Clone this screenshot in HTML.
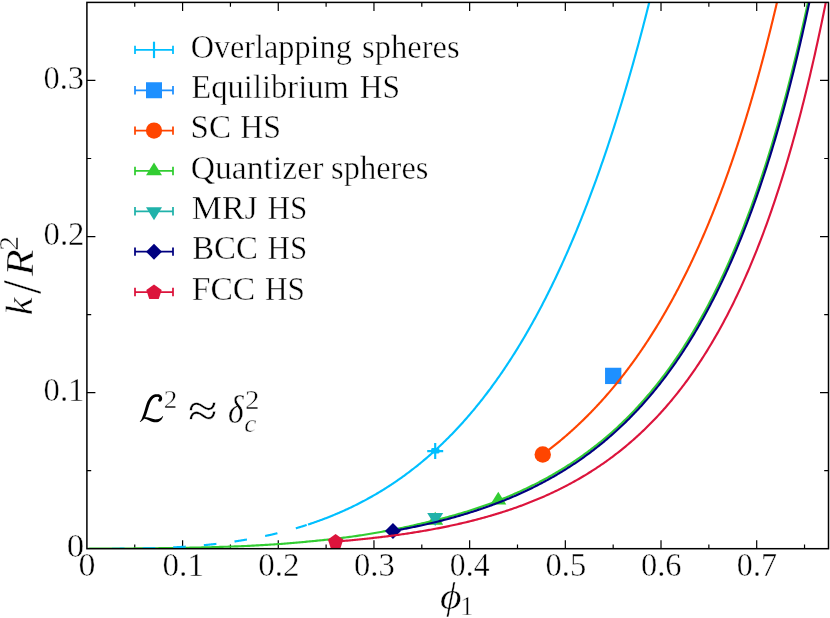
<!DOCTYPE html>
<html><head><meta charset="utf-8"><title>k/R^2 vs phi_1</title>
<style>html,body{margin:0;padding:0;background:#fff}body{width:830px;height:618px;overflow:hidden;font-family:"Liberation Serif",serif}</style></head>
<body>
<svg width="830" height="618" viewBox="0 0 830 618" style="display:block">
<rect width="830" height="618" fill="#fff"/>
<defs><clipPath id="ax"><rect x="86.9" y="2.4" width="741.6" height="546.3000000000001"/></clipPath></defs>
<path d="M134.74,548.7v-4.3M134.74,2.4v4.3M182.59,548.7v-8.5M182.59,2.4v8.5M230.43,548.7v-4.3M230.43,2.4v4.3M278.27,548.7v-8.5M278.27,2.4v8.5M326.11,548.7v-4.3M326.11,2.4v4.3M373.96,548.7v-8.5M373.96,2.4v8.5M421.80,548.7v-4.3M421.80,2.4v4.3M469.64,548.7v-8.5M469.64,2.4v8.5M517.49,548.7v-4.3M517.49,2.4v4.3M565.33,548.7v-8.5M565.33,2.4v8.5M613.17,548.7v-4.3M613.17,2.4v4.3M661.01,548.7v-8.5M661.01,2.4v8.5M708.86,548.7v-4.3M708.86,2.4v4.3M756.70,548.7v-8.5M756.70,2.4v8.5M804.54,548.7v-4.3M804.54,2.4v4.3M86.9,470.66h4.3M828.5,470.66h-4.3M86.9,392.61h8.5M828.5,392.61h-8.5M86.9,314.57h4.3M828.5,314.57h-4.3M86.9,236.53h8.5M828.5,236.53h-8.5M86.9,158.49h4.3M828.5,158.49h-4.3M86.9,80.44h8.5M828.5,80.44h-8.5" stroke="#000" stroke-width="1.2" fill="none"/>
<g clip-path="url(#ax)" fill="none" stroke-linejoin="round">
<rect x="605.0500000000001" y="367.75" width="16.3" height="16.3" fill="#1e90ff"/>
<path d="M542.75,454.47 L543.38,454.00 L544.01,453.53 L544.64,453.06 L545.28,452.58 L545.91,452.10 L546.54,451.62 L547.17,451.14 L547.81,450.66 L548.44,450.17 L549.07,449.68 L549.70,449.19 L550.33,448.70 L550.97,448.21 L551.60,447.71 L552.23,447.21 L552.86,446.71 L553.49,446.21 L554.13,445.71 L554.76,445.20 L555.39,444.69 L556.02,444.18 L556.66,443.67 L557.29,443.15 L557.92,442.63 L558.55,442.11 L559.18,441.59 L559.82,441.07 L560.45,440.54 L561.08,440.01 L561.71,439.48 L562.34,438.94 L562.98,438.41 L563.61,437.87 L564.24,437.33 L564.87,436.79 L565.51,436.24 L566.14,435.70 L566.77,435.15 L567.40,434.59 L568.03,434.04 L568.67,433.48 L569.30,432.92 L569.93,432.36 L570.56,431.80 L571.19,431.23 L571.83,430.66 L572.46,430.09 L573.09,429.52 L573.72,428.94 L574.36,428.36 L574.99,427.78 L575.62,427.20 L576.25,426.61 L576.88,426.02 L577.52,425.43 L578.15,424.84 L578.78,424.24 L579.41,423.64 L580.04,423.04 L580.68,422.44 L581.31,421.83 L581.94,421.22 L582.57,420.61 L583.21,419.99 L583.84,419.38 L584.47,418.76 L585.10,418.13 L585.73,417.51 L586.37,416.88 L587.00,416.25 L587.63,415.62 L588.26,414.98 L588.89,414.34 L589.53,413.70 L590.16,413.05 L590.79,412.41 L591.42,411.76 L592.06,411.10 L592.69,410.45 L593.32,409.79 L593.95,409.13 L594.58,408.46 L595.22,407.80 L595.85,407.13 L596.48,406.45 L597.11,405.78 L597.74,405.10 L598.38,404.42 L599.01,403.73 L599.64,403.04 L600.27,402.35 L600.91,401.66 L601.54,400.96 L602.17,400.26 L602.80,399.56 L603.43,398.85 L604.07,398.14 L604.70,397.43 L605.33,396.72 L605.96,396.00 L606.59,395.28 L607.23,394.55 L607.86,393.82 L608.49,393.09 L609.12,392.36 L609.76,391.62 L610.39,390.88 L611.02,390.14 L611.65,389.39 L612.28,388.64 L612.92,387.88 L613.55,387.13 L614.18,386.37 L614.81,385.60 L615.44,384.83 L616.08,384.06 L616.71,383.29 L617.34,382.51 L617.97,381.73 L618.61,380.95 L619.24,380.16 L619.87,379.37 L620.50,378.57 L621.13,377.77 L621.77,376.97 L622.40,376.17 L623.03,375.36 L623.66,374.54 L624.29,373.73 L624.93,372.91 L625.56,372.08 L626.19,371.26 L626.82,370.43 L627.46,369.59 L628.09,368.75 L628.72,367.91 L629.35,367.07 L629.98,366.22 L630.62,365.36 L631.25,364.51 L631.88,363.64 L632.51,362.78 L633.14,361.91 L633.78,361.04 L634.41,360.16 L635.04,359.28 L635.67,358.40 L636.31,357.51 L636.94,356.61 L637.57,355.72 L638.20,354.82 L638.83,353.91 L639.47,353.00 L640.10,352.09 L640.73,351.17 L641.36,350.25 L641.99,349.33 L642.63,348.40 L643.26,347.46 L643.89,346.53 L644.52,345.58 L645.16,344.64 L645.79,343.69 L646.42,342.73 L647.05,341.77 L647.68,340.81 L648.32,339.84 L648.95,338.87 L649.58,337.89 L650.21,336.91 L650.84,335.92 L651.48,334.93 L652.11,333.94 L652.74,332.94 L653.37,331.94 L654.01,330.93 L654.64,329.91 L655.27,328.90 L655.90,327.87 L656.53,326.85 L657.17,325.81 L657.80,324.78 L658.43,323.73 L659.06,322.69 L659.69,321.64 L660.33,320.58 L660.96,319.52 L661.59,318.45 L662.22,317.38 L662.86,316.31 L663.49,315.23 L664.12,314.14 L664.75,313.05 L665.38,311.95 L666.02,310.85 L666.65,309.75 L667.28,308.64 L667.91,307.52 L668.55,306.40 L669.18,305.27 L669.81,304.14 L670.44,303.00 L671.07,301.86 L671.71,300.71 L672.34,299.56 L672.97,298.40 L673.60,297.23 L674.23,296.06 L674.87,294.89 L675.50,293.71 L676.13,292.52 L676.76,291.33 L677.40,290.13 L678.03,288.93 L678.66,287.72 L679.29,286.50 L679.92,285.28 L680.56,284.06 L681.19,282.82 L681.82,281.59 L682.45,280.34 L683.08,279.09 L683.72,277.84 L684.35,276.58 L684.98,275.31 L685.61,274.03 L686.25,272.75 L686.88,271.47 L687.51,270.18 L688.14,268.88 L688.77,267.57 L689.41,266.26 L690.04,264.94 L690.67,263.62 L691.30,262.29 L691.93,260.95 L692.57,259.61 L693.20,258.26 L693.83,256.91 L694.46,255.54 L695.10,254.17 L695.73,252.80 L696.36,251.42 L696.99,250.03 L697.62,248.63 L698.26,247.23 L698.89,245.82 L699.52,244.40 L700.15,242.98 L700.78,241.55 L701.42,240.11 L702.05,238.67 L702.68,237.22 L703.31,235.76 L703.95,234.29 L704.58,232.82 L705.21,231.34 L705.84,229.85 L706.47,228.36 L707.11,226.86 L707.74,225.35 L708.37,223.83 L709.00,222.30 L709.63,220.77 L710.27,219.23 L710.90,217.68 L711.53,216.13 L712.16,214.57 L712.80,213.00 L713.43,211.42 L714.06,209.83 L714.69,208.24 L715.32,206.63 L715.96,205.02 L716.59,203.41 L717.22,201.78 L717.85,200.14 L718.48,198.50 L719.12,196.85 L719.75,195.19 L720.38,193.52 L721.01,191.85 L721.65,190.16 L722.28,188.47 L722.91,186.76 L723.54,185.05 L724.17,183.33 L724.81,181.61 L725.44,179.87 L726.07,178.12 L726.70,176.37 L727.33,174.60 L727.97,172.83 L728.60,171.05 L729.23,169.26 L729.86,167.46 L730.50,165.65 L731.13,163.83 L731.76,162.00 L732.39,160.16 L733.02,158.31 L733.66,156.46 L734.29,154.59 L734.92,152.71 L735.55,150.83 L736.18,148.93 L736.82,147.02 L737.45,145.11 L738.08,143.18 L738.71,141.25 L739.35,139.30 L739.98,137.34 L740.61,135.38 L741.24,133.40 L741.87,131.41 L742.51,129.42 L743.14,127.41 L743.77,125.39 L744.40,123.36 L745.03,121.32 L745.67,119.27 L746.30,117.20 L746.93,115.13 L747.56,113.05 L748.20,110.95 L748.83,108.84 L749.46,106.73 L750.09,104.60 L750.72,102.46 L751.36,100.30 L751.99,98.14 L752.62,95.96 L753.25,93.78 L753.88,91.58 L754.52,89.37 L755.15,87.14 L755.78,84.91 L756.41,82.66 L757.05,80.40 L757.68,78.13 L758.31,75.84 L758.94,73.55 L759.57,71.24 L760.21,68.92 L760.84,66.58 L761.47,64.23 L762.10,61.87 L762.73,59.50 L763.37,57.11 L764.00,54.71 L764.63,52.30 L765.26,49.87 L765.90,47.43 L766.53,44.98 L767.16,42.51 L767.79,40.03 L768.42,37.54 L769.06,35.03 L769.69,32.50 L770.32,29.97 L770.95,27.41 L771.58,24.85 L772.22,22.27 L772.85,19.67 L773.48,17.06 L774.11,14.44 L774.75,11.80 L775.38,9.15 L776.01,6.48 L776.64,3.79 L777.27,1.09 L777.91,-1.62 L778.54,-4.35 L779.17,-7.10 L779.80,-9.86 L780.43,-12.64" stroke="#ff4500" stroke-width="2.15"/>
<circle cx="542.75" cy="454.47" r="8.2" fill="#ff4500"/>
<path d="M86.90,548.70 L88.38,548.70 L89.85,548.69 L91.33,548.68 L92.81,548.68 L94.28,548.67 L95.76,548.67 L97.24,548.66 L98.71,548.66 L100.19,548.65 L101.67,548.64 L103.14,548.64 L104.62,548.63 L106.09,548.62 L107.57,548.61 L109.05,548.61 L110.52,548.60 L112.00,548.59 L113.48,548.58 L114.95,548.57 L116.43,548.57 L117.91,548.56 L119.38,548.55 L120.86,548.54 L122.34,548.53 L123.81,548.52 L125.29,548.51 L126.77,548.50 L128.24,548.49 L129.72,548.47 L131.20,548.46 L132.67,548.45 L134.15,548.44 L135.62,548.43 L137.10,548.41 L138.58,548.40 L140.05,548.39 L141.53,548.37 L143.01,548.36 L144.48,548.34 L145.96,548.33 L147.44,548.32 L148.91,548.30 L150.39,548.28 L151.87,548.27 L153.34,548.25 L154.82,548.23 L156.30,548.22 L157.77,548.20 L159.25,548.18 L160.73,548.16 L162.20,548.14 L163.68,548.12 L165.16,548.10 L166.63,548.08 L168.11,548.06 L169.58,548.04 L171.06,548.02 L172.54,548.00 L174.01,547.98 L175.49,547.95 L176.97,547.93 L178.44,547.91 L179.92,547.88 L181.40,547.86 L182.87,547.83 L184.35,547.80 L185.83,547.78 L187.30,547.75 L188.78,547.72 L190.26,547.69 L191.73,547.66 L193.21,547.63 L194.69,547.60 L196.16,547.56 L197.64,547.53 L199.11,547.50 L200.59,547.46 L202.07,547.43 L203.54,547.39 L205.02,547.35 L206.50,547.32 L207.97,547.28 L209.45,547.24 L210.93,547.20 L212.40,547.16 L213.88,547.12 L215.36,547.07 L216.83,547.03 L218.31,546.99 L219.79,546.94 L221.26,546.90 L222.74,546.85 L224.22,546.80 L225.69,546.75 L227.17,546.70 L228.65,546.65 L230.12,546.60 L231.60,546.55 L233.07,546.50 L234.55,546.44 L236.03,546.39 L237.50,546.33 L238.98,546.27 L240.46,546.21 L241.93,546.15 L243.41,546.08 L244.89,546.02 L246.36,545.95 L247.84,545.88 L249.32,545.81 L250.79,545.73 L252.27,545.66 L253.75,545.58 L255.22,545.51 L256.70,545.43 L258.18,545.35 L259.65,545.27 L261.13,545.18 L262.61,545.10 L264.08,545.01 L265.56,544.92 L267.03,544.83 L268.51,544.74 L269.99,544.65 L271.46,544.55 L272.94,544.46 L274.42,544.36 L275.89,544.26 L277.37,544.16 L278.85,544.05 L280.32,543.95 L281.80,543.84 L283.28,543.73 L284.75,543.62 L286.23,543.51 L287.71,543.39 L289.18,543.27 L290.66,543.15 L292.14,543.03 L293.61,542.91 L295.09,542.78 L296.56,542.65 L298.04,542.52 L299.52,542.39 L300.99,542.26 L302.47,542.12 L303.95,541.98 L305.42,541.84 L306.90,541.69 L308.38,541.55 L309.85,541.40 L311.33,541.26 L312.81,541.12 L314.28,540.98 L315.76,540.84 L317.24,540.69 L318.71,540.55 L320.19,540.40 L321.67,540.24 L323.14,540.09 L324.62,539.93 L326.10,539.77 L327.57,539.61 L329.05,539.45 L330.52,539.28 L332.00,539.12 L333.48,538.95 L334.95,538.77 L336.43,538.60 L337.91,538.42 L339.38,538.24 L340.86,538.05 L342.34,537.87 L343.81,537.68 L345.29,537.49 L346.77,537.29 L348.24,537.10 L349.72,536.90 L351.20,536.69 L352.67,536.49 L354.15,536.28 L355.63,536.07 L357.10,535.85 L358.58,535.63 L360.05,535.41 L361.53,535.19 L363.01,534.96 L364.48,534.73 L365.96,534.50 L367.44,534.26 L368.91,534.02 L370.39,533.78 L371.87,533.53 L373.34,533.28 L374.82,533.03 L376.30,532.77 L377.77,532.51 L379.25,532.25 L380.73,531.98 L382.20,531.71 L383.68,531.43 L385.16,531.17 L386.63,530.90 L388.11,530.63 L389.59,530.36 L391.06,530.08 L392.54,529.80 L394.01,529.51 L395.49,529.22 L396.97,528.93 L398.44,528.63 L399.92,528.33 L401.40,528.03 L402.87,527.72 L404.35,527.41 L405.83,527.10 L407.30,526.78 L408.78,526.45 L410.26,526.12 L411.73,525.79 L413.21,525.46 L414.69,525.12 L416.16,524.77 L417.64,524.42 L419.12,524.07 L420.59,523.71 L422.07,523.36 L423.54,523.03 L425.02,522.69 L426.50,522.35 L427.97,522.01 L429.45,521.66 L430.93,521.31 L432.40,520.96 L433.88,520.60 L435.36,520.24 L436.83,519.88 L438.31,519.51 L439.79,519.13 L441.26,518.76 L442.74,518.37 L444.22,517.99 L445.69,517.60 L447.17,517.20 L448.65,516.80 L450.12,516.40 L451.60,515.99 L453.08,515.58 L454.55,515.17 L456.03,514.75 L457.50,514.32 L458.98,513.89 L460.46,513.46 L461.93,513.02 L463.41,512.57 L464.89,512.12 L466.36,511.67 L467.84,511.21 L469.32,510.75 L470.79,510.28 L472.27,509.80 L473.75,509.32 L475.22,508.84 L476.70,508.35 L478.18,507.86 L479.65,507.36 L481.13,506.85 L482.61,506.34 L484.08,505.82 L485.56,505.30 L487.04,504.77 L488.51,504.24 L489.99,503.70 L491.46,503.16 L492.94,502.61 L494.42,502.05 L495.89,501.49 L497.37,500.92 L498.85,500.34 L500.32,499.76 L501.80,499.18 L503.28,498.58 L504.75,497.98 L506.23,497.38 L507.71,496.76 L509.18,496.15 L510.66,495.52 L512.14,494.89 L513.61,494.25 L515.09,493.60 L516.57,492.95 L518.04,492.29 L519.52,491.62 L520.99,490.95 L522.47,490.28 L523.95,489.59 L525.42,488.90 L526.90,488.20 L528.38,487.49 L529.85,486.78 L531.33,486.06 L532.81,485.33 L534.28,484.59 L535.76,483.84 L537.24,483.09 L538.71,482.33 L540.19,481.56 L541.67,480.78 L543.14,480.00 L544.62,479.20 L546.10,478.40 L547.57,477.59 L549.05,476.77 L550.53,475.94 L552.00,475.10 L553.48,474.25 L554.95,473.40 L556.43,472.53 L557.91,471.66 L559.38,470.77 L560.86,469.88 L562.34,468.98 L563.81,468.06 L565.29,467.14 L566.77,466.21 L568.24,465.26 L569.72,464.31 L571.20,463.35 L572.67,462.38 L574.15,461.39 L575.63,460.40 L577.10,459.39 L578.58,458.38 L580.06,457.35 L581.53,456.31 L583.01,455.26 L584.48,454.20 L585.96,453.13 L587.44,452.04 L588.91,450.95 L590.39,449.84 L591.87,448.72 L593.34,447.59 L594.82,446.44 L596.30,445.29 L597.77,444.12 L599.25,442.94 L600.73,441.74 L602.20,440.53 L603.68,439.31 L605.16,438.08 L606.63,436.83 L608.11,435.56 L609.59,434.29 L611.06,433.00 L612.54,431.69 L614.02,430.37 L615.49,429.03 L616.97,427.67 L618.44,426.29 L619.92,424.90 L621.40,423.50 L622.87,422.08 L624.35,420.64 L625.83,419.19 L627.30,417.72 L628.78,416.23 L630.26,414.73 L631.73,413.21 L633.21,411.67 L634.69,410.12 L636.16,408.55 L637.64,406.96 L639.12,405.35 L640.59,403.73 L642.07,402.08 L643.55,400.42 L645.02,398.74 L646.50,397.04 L647.97,395.32 L649.45,393.58 L650.93,391.82 L652.40,390.04 L653.88,388.24 L655.36,386.42 L656.83,384.57 L658.31,382.71 L659.79,380.83 L661.26,378.92 L662.74,376.99 L664.22,375.04 L665.69,373.07 L667.17,371.07 L668.65,369.05 L670.12,367.01 L671.60,364.94 L673.08,362.85 L674.55,360.73 L676.03,358.59 L677.51,356.42 L678.98,354.23 L680.46,352.01 L681.93,349.77 L683.41,347.50 L684.89,345.20 L686.36,342.87 L687.84,340.52 L689.32,338.14 L690.79,335.73 L692.27,333.29 L693.75,330.82 L695.22,328.33 L696.70,325.80 L698.18,323.24 L699.65,320.65 L701.13,318.03 L702.61,315.38 L704.08,312.69 L705.56,309.98 L707.04,307.23 L708.51,304.44 L709.99,301.62 L711.47,298.77 L712.94,295.88 L714.42,292.95 L715.89,289.99 L717.37,287.00 L718.85,283.96 L720.32,280.89 L721.80,277.78 L723.28,274.63 L724.75,271.44 L726.23,268.21 L727.71,264.94 L729.18,261.62 L730.66,258.27 L732.14,254.87 L733.61,251.43 L735.09,247.95 L736.57,244.42 L738.04,240.84 L739.52,237.22 L741.00,233.55 L742.47,229.84 L743.95,226.07 L745.42,222.26 L746.90,218.40 L748.38,214.49 L749.85,210.52 L751.33,206.51 L752.81,202.44 L754.28,198.31 L755.76,194.13 L757.24,189.90 L758.71,185.61 L760.19,181.26 L761.67,176.85 L763.14,172.38 L764.62,167.86 L766.10,163.27 L767.57,158.61 L769.05,153.90 L770.53,149.12 L772.00,144.27 L773.48,139.36 L774.96,134.38 L776.43,129.33 L777.91,124.21 L779.38,119.02 L780.86,113.75 L782.34,108.41 L783.81,103.00 L785.29,97.51 L786.77,91.94 L788.24,86.29 L789.72,80.56 L791.20,74.74 L792.67,68.85 L794.15,62.86 L795.63,56.79 L797.10,50.63 L798.58,44.39 L800.06,38.04 L801.53,31.61 L803.01,25.08 L804.49,18.45 L805.96,11.72 L807.44,4.89 L808.91,-2.04 L810.39,-9.08" stroke="#32cd32" stroke-width="2.15"/>
<path d="M435.2,511.79999999999995L443.2,524.6999999999999L427.2,524.6999999999999Z" fill="#32cd32"/>
<path d="M498.3,491.7L506.3,504.6L490.3,504.6Z" fill="#32cd32"/>
<path d="M435.2,526.0L443.2,513.1L427.2,513.1Z" fill="#20b2aa"/>
<path d="M392.92706384067196,522.9989870123608L400.92706384067196,530.9989870123608L392.92706384067196,538.9989870123608L384.92706384067196,530.9989870123608Z" fill="#000080"/>
<path d="M392.93,531.00 L394.01,530.81 L395.09,530.61 L396.17,530.42 L397.25,530.22 L398.32,530.02 L399.40,529.82 L400.48,529.62 L401.56,529.42 L402.64,529.21 L403.72,529.01 L404.80,528.80 L405.88,528.59 L406.96,528.38 L408.04,528.16 L409.12,527.95 L410.20,527.73 L411.28,527.51 L412.36,527.29 L413.44,527.07 L414.52,526.85 L415.60,526.62 L416.68,526.39 L417.76,526.16 L418.84,525.93 L419.92,525.70 L421.00,525.46 L422.08,525.23 L423.16,524.99 L424.23,524.75 L425.31,524.50 L426.39,524.26 L427.47,524.01 L428.55,523.76 L429.63,523.51 L430.71,523.26 L431.79,523.00 L432.87,522.75 L433.95,522.49 L435.03,522.23 L436.11,521.96 L437.19,521.70 L438.27,521.43 L439.35,521.16 L440.43,520.89 L441.51,520.61 L442.59,520.34 L443.67,520.06 L444.75,519.78 L445.83,519.50 L446.91,519.21 L447.99,518.93 L449.07,518.64 L450.14,518.34 L451.22,518.05 L452.30,517.75 L453.38,517.45 L454.46,517.15 L455.54,516.85 L456.62,516.54 L457.70,516.24 L458.78,515.93 L459.86,515.61 L460.94,515.30 L462.02,514.98 L463.10,514.66 L464.18,514.33 L465.26,514.01 L466.34,513.68 L467.42,513.35 L468.50,513.02 L469.58,512.68 L470.66,512.34 L471.74,512.00 L472.82,511.66 L473.90,511.31 L474.98,510.96 L476.05,510.61 L477.13,510.25 L478.21,509.89 L479.29,509.53 L480.37,509.17 L481.45,508.80 L482.53,508.43 L483.61,508.06 L484.69,507.69 L485.77,507.31 L486.85,506.93 L487.93,506.54 L489.01,506.16 L490.09,505.77 L491.17,505.37 L492.25,504.98 L493.33,504.58 L494.41,504.18 L495.49,503.77 L496.57,503.36 L497.65,502.95 L498.73,502.54 L499.81,502.12 L500.89,501.70 L501.96,501.27 L503.04,500.84 L504.12,500.41 L505.20,499.98 L506.28,499.54 L507.36,499.10 L508.44,498.65 L509.52,498.20 L510.60,497.75 L511.68,497.30 L512.76,496.84 L513.84,496.37 L514.92,495.91 L516.00,495.44 L517.08,494.96 L518.16,494.49 L519.24,494.01 L520.32,493.52 L521.40,493.03 L522.48,492.54 L523.56,492.04 L524.64,491.54 L525.72,491.04 L526.80,490.53 L527.87,490.02 L528.95,489.50 L530.03,488.98 L531.11,488.46 L532.19,487.93 L533.27,487.40 L534.35,486.86 L535.43,486.32 L536.51,485.77 L537.59,485.23 L538.67,484.67 L539.75,484.11 L540.83,483.55 L541.91,482.98 L542.99,482.41 L544.07,481.84 L545.15,481.26 L546.23,480.67 L547.31,480.08 L548.39,479.49 L549.47,478.89 L550.55,478.29 L551.63,477.68 L552.71,477.07 L553.78,476.45 L554.86,475.83 L555.94,475.20 L557.02,474.57 L558.10,473.93 L559.18,473.29 L560.26,472.64 L561.34,471.99 L562.42,471.33 L563.50,470.66 L564.58,470.00 L565.66,469.32 L566.74,468.64 L567.82,467.96 L568.90,467.27 L569.98,466.58 L571.06,465.87 L572.14,465.17 L573.22,464.46 L574.30,463.74 L575.38,463.02 L576.46,462.29 L577.54,461.55 L578.62,460.81 L579.69,460.07 L580.77,459.31 L581.85,458.56 L582.93,457.79 L584.01,457.02 L585.09,456.24 L586.17,455.46 L587.25,454.67 L588.33,453.88 L589.41,453.08 L590.49,452.27 L591.57,451.45 L592.65,450.63 L593.73,449.80 L594.81,448.97 L595.89,448.13 L596.97,447.28 L598.05,446.43 L599.13,445.57 L600.21,444.70 L601.29,443.82 L602.37,442.94 L603.45,442.05 L604.52,441.15 L605.60,440.25 L606.68,439.34 L607.76,438.42 L608.84,437.49 L609.92,436.56 L611.00,435.62 L612.08,434.67 L613.16,433.71 L614.24,432.75 L615.32,431.78 L616.40,430.80 L617.48,429.81 L618.56,428.82 L619.64,427.81 L620.72,426.80 L621.80,425.78 L622.88,424.75 L623.96,423.71 L625.04,422.67 L626.12,421.61 L627.20,420.55 L628.28,419.48 L629.36,418.40 L630.43,417.31 L631.51,416.21 L632.59,415.10 L633.67,413.99 L634.75,412.86 L635.83,411.73 L636.91,410.58 L637.99,409.43 L639.07,408.26 L640.15,407.09 L641.23,405.91 L642.31,404.71 L643.39,403.51 L644.47,402.30 L645.55,401.08 L646.63,399.84 L647.71,398.60 L648.79,397.35 L649.87,396.08 L650.95,394.81 L652.03,393.52 L653.11,392.23 L654.19,390.92 L655.27,389.60 L656.34,388.27 L657.42,386.93 L658.50,385.58 L659.58,384.22 L660.66,382.84 L661.74,381.46 L662.82,380.06 L663.90,378.65 L664.98,377.23 L666.06,375.79 L667.14,374.35 L668.22,372.89 L669.30,371.42 L670.38,369.93 L671.46,368.44 L672.54,366.93 L673.62,365.41 L674.70,363.87 L675.78,362.32 L676.86,360.76 L677.94,359.19 L679.02,357.60 L680.10,356.00 L681.18,354.38 L682.25,352.75 L683.33,351.10 L684.41,349.45 L685.49,347.77 L686.57,346.08 L687.65,344.38 L688.73,342.66 L689.81,340.93 L690.89,339.18 L691.97,337.42 L693.05,335.64 L694.13,333.85 L695.21,332.04 L696.29,330.21 L697.37,328.37 L698.45,326.51 L699.53,324.64 L700.61,322.74 L701.69,320.84 L702.77,318.91 L703.85,316.97 L704.93,315.01 L706.01,313.03 L707.09,311.03 L708.16,309.02 L709.24,306.99 L710.32,304.94 L711.40,302.87 L712.48,300.78 L713.56,298.68 L714.64,296.55 L715.72,294.41 L716.80,292.25 L717.88,290.06 L718.96,287.86 L720.04,285.64 L721.12,283.39 L722.20,281.13 L723.28,278.84 L724.36,276.54 L725.44,274.21 L726.52,271.86 L727.60,269.49 L728.68,267.09 L729.76,264.68 L730.84,262.24 L731.92,259.78 L733.00,257.30 L734.07,254.79 L735.15,252.26 L736.23,249.71 L737.31,247.13 L738.39,244.53 L739.47,241.90 L740.55,239.25 L741.63,236.57 L742.71,233.87 L743.79,231.14 L744.87,228.39 L745.95,225.60 L747.03,222.80 L748.11,219.96 L749.19,217.10 L750.27,214.21 L751.35,211.30 L752.43,208.35 L753.51,205.38 L754.59,202.37 L755.67,199.34 L756.75,196.28 L757.83,193.19 L758.91,190.07 L759.98,186.91 L761.06,183.73 L762.14,180.51 L763.22,177.27 L764.30,173.99 L765.38,170.68 L766.46,167.33 L767.54,163.95 L768.62,160.54 L769.70,157.09 L770.78,153.61 L771.86,150.10 L772.94,146.54 L774.02,142.96 L775.10,139.33 L776.18,135.67 L777.26,131.97 L778.34,128.24 L779.42,124.46 L780.50,120.65 L781.58,116.79 L782.66,112.90 L783.74,108.97 L784.82,104.99 L785.89,100.98 L786.97,96.92 L788.05,92.82 L789.13,88.68 L790.21,84.49 L791.29,80.26 L792.37,75.99 L793.45,71.66 L794.53,67.30 L795.61,62.88 L796.69,58.42 L797.77,53.91 L798.85,49.36 L799.93,44.75 L801.01,40.09 L802.09,35.39 L803.17,30.63 L804.25,25.82 L805.33,20.95 L806.41,16.04 L807.49,11.07 L808.57,6.04 L809.65,0.96 L810.73,-4.18 L811.80,-9.38" stroke="#000080" stroke-width="2.15"/>
<path d="M335.22,541.63 L336.46,541.52 L337.70,541.42 L338.93,541.32 L340.17,541.22 L341.40,541.11 L342.64,541.00 L343.88,540.90 L345.11,540.79 L346.35,540.68 L347.59,540.57 L348.82,540.46 L350.06,540.34 L351.29,540.23 L352.53,540.11 L353.77,539.99 L355.00,539.88 L356.24,539.76 L357.47,539.63 L358.71,539.51 L359.95,539.39 L361.18,539.26 L362.42,539.14 L363.66,539.01 L364.89,538.88 L366.13,538.75 L367.36,538.62 L368.60,538.48 L369.84,538.35 L371.07,538.21 L372.31,538.08 L373.55,537.94 L374.78,537.80 L376.02,537.65 L377.25,537.51 L378.49,537.36 L379.73,537.22 L380.96,537.07 L382.20,536.92 L383.43,536.77 L384.67,536.62 L385.91,536.46 L387.14,536.31 L388.38,536.15 L389.62,535.99 L390.85,535.83 L392.09,535.66 L393.32,535.50 L394.56,535.33 L395.80,535.17 L397.03,535.00 L398.27,534.82 L399.51,534.65 L400.74,534.48 L401.98,534.30 L403.21,534.12 L404.45,533.94 L405.69,533.76 L406.92,533.58 L408.16,533.39 L409.39,533.20 L410.63,533.01 L411.87,532.82 L413.10,532.63 L414.34,532.43 L415.58,532.23 L416.81,532.03 L418.05,531.83 L419.28,531.63 L420.52,531.42 L421.76,531.22 L422.99,531.01 L424.23,530.79 L425.47,530.58 L426.70,530.36 L427.94,530.15 L429.17,529.93 L430.41,529.70 L431.65,529.48 L432.88,529.25 L434.12,529.02 L435.35,528.79 L436.59,528.56 L437.83,528.32 L439.06,528.08 L440.30,527.84 L441.54,527.60 L442.77,527.35 L444.01,527.10 L445.24,526.85 L446.48,526.60 L447.72,526.34 L448.95,526.08 L450.19,525.82 L451.43,525.56 L452.66,525.29 L453.90,525.02 L455.13,524.75 L456.37,524.48 L457.61,524.20 L458.84,523.92 L460.08,523.64 L461.31,523.36 L462.55,523.07 L463.79,522.78 L465.02,522.49 L466.26,522.19 L467.50,521.89 L468.73,521.59 L469.97,521.28 L471.20,520.98 L472.44,520.66 L473.68,520.35 L474.91,520.03 L476.15,519.71 L477.39,519.39 L478.62,519.06 L479.86,518.73 L481.09,518.40 L482.33,518.07 L483.57,517.73 L484.80,517.38 L486.04,517.04 L487.27,516.69 L488.51,516.34 L489.75,515.98 L490.98,515.62 L492.22,515.26 L493.46,514.89 L494.69,514.52 L495.93,514.15 L497.16,513.77 L498.40,513.39 L499.64,513.01 L500.87,512.62 L502.11,512.23 L503.35,511.83 L504.58,511.43 L505.82,511.03 L507.05,510.62 L508.29,510.21 L509.53,509.80 L510.76,509.38 L512.00,508.96 L513.23,508.53 L514.47,508.10 L515.71,507.66 L516.94,507.22 L518.18,506.78 L519.42,506.33 L520.65,505.88 L521.89,505.42 L523.12,504.96 L524.36,504.50 L525.60,504.03 L526.83,503.55 L528.07,503.08 L529.31,502.59 L530.54,502.11 L531.78,501.61 L533.01,501.12 L534.25,500.61 L535.49,500.11 L536.72,499.59 L537.96,499.08 L539.20,498.56 L540.43,498.03 L541.67,497.50 L542.90,496.96 L544.14,496.42 L545.38,495.87 L546.61,495.32 L547.85,494.76 L549.08,494.20 L550.32,493.63 L551.56,493.06 L552.79,492.48 L554.03,491.89 L555.27,491.30 L556.50,490.71 L557.74,490.11 L558.97,489.50 L560.21,488.88 L561.45,488.27 L562.68,487.64 L563.92,487.01 L565.16,486.37 L566.39,485.73 L567.63,485.08 L568.86,484.42 L570.10,483.76 L571.34,483.09 L572.57,482.42 L573.81,481.74 L575.04,481.05 L576.28,480.35 L577.52,479.65 L578.75,478.95 L579.99,478.23 L581.23,477.51 L582.46,476.78 L583.70,476.05 L584.93,475.30 L586.17,474.55 L587.41,473.80 L588.64,473.03 L589.88,472.26 L591.12,471.48 L592.35,470.69 L593.59,469.90 L594.82,469.10 L596.06,468.29 L597.30,467.47 L598.53,466.65 L599.77,465.81 L601.00,464.97 L602.24,464.12 L603.48,463.26 L604.71,462.40 L605.95,461.52 L607.19,460.64 L608.42,459.75 L609.66,458.85 L610.89,457.94 L612.13,457.02 L613.37,456.09 L614.60,455.16 L615.84,454.21 L617.08,453.26 L618.31,452.29 L619.55,451.32 L620.78,450.34 L622.02,449.34 L623.26,448.34 L624.49,447.33 L625.73,446.31 L626.96,445.28 L628.20,444.23 L629.44,443.18 L630.67,442.12 L631.91,441.05 L633.15,439.96 L634.38,438.87 L635.62,437.76 L636.85,436.65 L638.09,435.52 L639.33,434.38 L640.56,433.23 L641.80,432.07 L643.04,430.90 L644.27,429.71 L645.51,428.52 L646.74,427.31 L647.98,426.09 L649.22,424.86 L650.45,423.61 L651.69,422.36 L652.92,421.09 L654.16,419.80 L655.40,418.51 L656.63,417.20 L657.87,415.88 L659.11,414.55 L660.34,413.20 L661.58,411.84 L662.81,410.46 L664.05,409.07 L665.29,407.67 L666.52,406.25 L667.76,404.82 L669.00,403.37 L670.23,401.91 L671.47,400.44 L672.70,398.94 L673.94,397.44 L675.18,395.92 L676.41,394.38 L677.65,392.83 L678.88,391.26 L680.12,389.67 L681.36,388.07 L682.59,386.45 L683.83,384.82 L685.07,383.17 L686.30,381.50 L687.54,379.81 L688.77,378.11 L690.01,376.39 L691.25,374.65 L692.48,372.89 L693.72,371.12 L694.96,369.32 L696.19,367.51 L697.43,365.68 L698.66,363.83 L699.90,361.96 L701.14,360.07 L702.37,358.16 L703.61,356.23 L704.84,354.28 L706.08,352.31 L707.32,350.32 L708.55,348.30 L709.79,346.27 L711.03,344.21 L712.26,342.14 L713.50,340.03 L714.73,337.91 L715.97,335.77 L717.21,333.60 L718.44,331.41 L719.68,329.19 L720.92,326.95 L722.15,324.69 L723.39,322.40 L724.62,320.08 L725.86,317.75 L727.10,315.38 L728.33,312.99 L729.57,310.57 L730.81,308.13 L732.04,305.66 L733.28,303.17 L734.51,300.64 L735.75,298.09 L736.99,295.51 L738.22,292.90 L739.46,290.26 L740.69,287.59 L741.93,284.90 L743.17,282.17 L744.40,279.41 L745.64,276.62 L746.88,273.80 L748.11,270.95 L749.35,268.06 L750.58,265.14 L751.82,262.19 L753.06,259.21 L754.29,256.19 L755.53,253.13 L756.77,250.05 L758.00,246.92 L759.24,243.76 L760.47,240.56 L761.71,237.33 L762.95,234.06 L764.18,230.75 L765.42,227.40 L766.65,224.01 L767.89,220.59 L769.13,217.12 L770.36,213.61 L771.60,210.06 L772.84,206.47 L774.07,202.83 L775.31,199.16 L776.54,195.43 L777.78,191.67 L779.02,187.86 L780.25,184.00 L781.49,180.09 L782.73,176.14 L783.96,172.14 L785.20,168.09 L786.43,163.99 L787.67,159.85 L788.91,155.65 L790.14,151.39 L791.38,147.09 L792.61,142.73 L793.85,138.32 L795.09,133.86 L796.32,129.33 L797.56,124.75 L798.80,120.12 L800.03,115.42 L801.27,110.66 L802.50,105.85 L803.74,100.97 L804.98,96.03 L806.21,91.03 L807.45,85.96 L808.69,80.83 L809.92,75.63 L811.16,70.36 L812.39,65.02 L813.63,59.62 L814.87,54.14 L816.10,48.59 L817.34,42.97 L818.57,37.27 L819.81,31.49 L821.05,25.64 L822.28,19.71 L823.52,13.70 L824.76,7.61 L825.99,1.43 L827.23,-4.82 L828.46,-11.17" stroke="#dc143c" stroke-width="2.15"/>
<path d="M335.60,533.90 L343.30,539.50 L340.36,548.55 L330.84,548.55 L327.90,539.50Z" fill="#dc143c"/>
<path d="M295.80,528.32 L296.08,528.23 L296.45,528.13 L296.81,528.02 L297.18,527.91 L297.55,527.80 L297.91,527.69 L298.28,527.58 L298.64,527.47 L299.01,527.36 L299.38,527.25 L299.74,527.14 L300.11,527.03 L300.48,526.92 L300.84,526.81 L301.21,526.70 L301.57,526.58 L301.94,526.47 L302.31,526.36 L302.67,526.24 L303.04,526.13 L303.40,526.01 L303.77,525.90 L304.14,525.78 L304.50,525.67 L304.87,525.55 L305.24,525.43 L305.60,525.32 L305.97,525.20 L306.33,525.08 L306.70,524.96 L306.70,524.96" stroke="#00bfff" stroke-width="2.15"/>
<path d="M265.15,536.00 L265.33,535.97 L265.69,535.89 L266.06,535.81 L266.42,535.73 L266.79,535.65 L267.16,535.57 L267.52,535.49 L267.89,535.41 L268.25,535.33 L268.62,535.25 L268.99,535.17 L269.35,535.09 L269.72,535.01 L270.09,534.93 L270.45,534.84 L270.82,534.76 L271.18,534.68 L271.55,534.60 L271.92,534.51 L272.28,534.43 L272.65,534.34 L273.01,534.26 L273.38,534.17 L273.75,534.09 L274.11,534.00 L274.48,533.92 L274.85,533.83 L275.21,533.74 L275.58,533.66 L275.94,533.57 L276.31,533.48 L276.68,533.39 L277.04,533.31 L277.41,533.22 L277.44,533.21" stroke="#00bfff" stroke-width="2.15"/>
<path d="M234.50,541.49 L234.57,541.48 L234.94,541.42 L235.30,541.37 L235.67,541.32 L236.03,541.26 L236.40,541.21 L236.77,541.15 L237.13,541.09 L237.50,541.04 L237.86,540.98 L238.23,540.93 L238.60,540.87 L238.96,540.81 L239.33,540.75 L239.70,540.70 L240.06,540.64 L240.43,540.58 L240.79,540.52 L241.16,540.46 L241.53,540.40 L241.89,540.35 L242.26,540.29 L242.62,540.23 L242.99,540.17 L243.36,540.11 L243.72,540.05 L244.09,539.98 L244.46,539.92 L244.82,539.86 L245.19,539.80 L245.55,539.74 L245.92,539.68 L246.29,539.61 L246.65,539.55 L246.94,539.50" stroke="#00bfff" stroke-width="2.15"/>
<path d="M203.85,545.17 L204.18,545.14 L204.55,545.10 L204.91,545.07 L205.28,545.03 L205.64,545.00 L206.01,544.96 L206.38,544.93 L206.74,544.89 L207.11,544.85 L207.47,544.82 L207.84,544.78 L208.21,544.74 L208.57,544.71 L208.94,544.67 L209.31,544.63 L209.67,544.59 L210.04,544.55 L210.40,544.52 L210.77,544.48 L211.14,544.44 L211.50,544.40 L211.87,544.36 L212.23,544.32 L212.60,544.28 L212.97,544.24 L213.33,544.20 L213.70,544.16 L214.07,544.12 L214.43,544.08 L214.80,544.04 L215.16,544.00 L215.53,543.96 L215.90,543.92 L216.26,543.87 L216.38,543.86" stroke="#00bfff" stroke-width="2.15"/>
<path d="M173.20,547.39 L173.42,547.38 L173.79,547.36 L174.16,547.34 L174.52,547.32 L174.89,547.30 L175.25,547.28 L175.62,547.26 L175.99,547.24 L176.35,547.22 L176.72,547.20 L177.08,547.18 L177.45,547.16 L177.82,547.14 L178.18,547.11 L178.55,547.09 L178.91,547.07 L179.28,547.05 L179.65,547.03 L180.01,547.01 L180.38,546.98 L180.75,546.96 L181.11,546.94 L181.48,546.92 L181.84,546.89 L182.21,546.87 L182.58,546.85 L182.94,546.82 L183.31,546.80 L183.67,546.77 L184.04,546.75 L184.41,546.73 L184.77,546.70 L185.14,546.68 L185.51,546.65 L185.78,546.63" stroke="#00bfff" stroke-width="2.15"/>
<path d="M142.55,548.46 L142.67,548.46 L143.03,548.45 L143.40,548.44 L143.76,548.44 L144.13,548.43 L144.50,548.42 L144.86,548.41 L145.23,548.41 L145.60,548.40 L145.96,548.39 L146.33,548.38 L146.69,548.37 L147.06,548.36 L147.43,548.35 L147.79,548.35 L148.16,548.34 L148.52,548.33 L148.89,548.32 L149.26,548.31 L149.62,548.30 L149.99,548.29 L150.36,548.28 L150.72,548.27 L151.09,548.26 L151.45,548.25 L151.82,548.24 L152.19,548.23 L152.55,548.22 L152.92,548.21 L153.28,548.20 L153.65,548.19 L154.02,548.18 L154.38,548.16 L154.75,548.15 L155.12,548.14 L155.15,548.14" stroke="#00bfff" stroke-width="2.15"/>
<path d="M111.90,548.70 L111.91,548.70 L112.28,548.70 L112.64,548.70 L113.01,548.70 L113.37,548.70 L113.74,548.70 L114.11,548.70 L114.47,548.70 L114.84,548.70 L115.21,548.70 L115.57,548.70 L115.94,548.70 L116.30,548.70 L116.67,548.70 L117.04,548.70 L117.40,548.70 L117.77,548.70 L118.13,548.70 L118.50,548.70 L118.87,548.70 L119.23,548.70 L119.60,548.70 L119.97,548.69 L120.33,548.69 L120.70,548.69 L121.06,548.69 L121.43,548.69 L121.80,548.69 L122.16,548.69 L122.53,548.69 L122.89,548.69 L123.26,548.68 L123.63,548.68 L123.99,548.68 L124.36,548.68 L124.50,548.68" stroke="#00bfff" stroke-width="2.15"/>
<path d="M308.00,524.54 L308.93,524.23 L309.87,523.92 L310.80,523.61 L311.73,523.30 L312.66,522.98 L313.60,522.66 L314.53,522.34 L315.46,522.01 L316.39,521.68 L317.33,521.35 L318.26,521.01 L319.19,520.68 L320.13,520.34 L321.06,519.99 L321.99,519.65 L322.92,519.30 L323.86,518.95 L324.79,518.59 L325.72,518.24 L326.65,517.88 L327.59,517.51 L328.52,517.15 L329.45,516.78 L330.39,516.40 L331.32,516.03 L332.25,515.65 L333.18,515.27 L334.12,514.88 L335.05,514.50 L335.98,514.11 L336.91,513.71 L337.85,513.31 L338.78,512.91 L339.71,512.51 L340.64,512.10 L341.58,511.69 L342.51,511.28 L343.44,510.86 L344.38,510.44 L345.31,510.02 L346.24,509.59 L347.17,509.16 L348.11,508.73 L349.04,508.29 L349.97,507.85 L350.90,507.41 L351.84,506.96 L352.77,506.51 L353.70,506.06 L354.64,505.60 L355.57,505.14 L356.50,504.67 L357.43,504.20 L358.37,503.73 L359.30,503.26 L360.23,502.78 L361.16,502.30 L362.10,501.81 L363.03,501.32 L363.96,500.83 L364.90,500.33 L365.83,499.83 L366.76,499.32 L367.69,498.81 L368.63,498.30 L369.56,497.78 L370.49,497.26 L371.42,496.74 L372.36,496.21 L373.29,495.68 L374.22,495.14 L375.16,494.60 L376.09,494.06 L377.02,493.51 L377.95,492.96 L378.89,492.40 L379.82,491.84 L380.75,491.28 L381.68,490.71 L382.62,490.14 L383.55,489.56 L384.48,488.98 L385.41,488.39 L386.35,487.80 L387.28,487.21 L388.21,486.61 L389.15,486.01 L390.08,485.40 L391.01,484.79 L391.94,484.18 L392.88,483.56 L393.81,482.93 L394.74,482.30 L395.67,481.67 L396.61,481.03 L397.54,480.39 L398.47,479.74 L399.41,479.09 L400.34,478.43 L401.27,477.77 L402.20,477.11 L403.14,476.44 L404.07,475.76 L405.00,475.08 L405.93,474.40 L406.87,473.71 L407.80,473.01 L408.73,472.31 L409.67,471.61 L410.60,470.90 L411.53,470.19 L412.46,469.47 L413.40,468.74 L414.33,468.02 L415.26,467.28 L416.19,466.54 L417.13,465.80 L418.06,465.05 L418.99,464.29 L419.93,463.54 L420.86,462.77 L421.79,462.00 L422.72,461.22 L423.66,460.44 L424.59,459.66 L425.52,458.87 L426.45,458.07 L427.39,457.27 L428.32,456.46 L429.25,455.64 L430.19,454.83 L431.12,454.00 L432.05,453.17 L432.98,452.34 L433.92,451.49 L434.85,450.65 L435.78,449.79 L436.71,448.93 L437.65,448.07 L438.58,447.20 L439.51,446.32 L440.44,445.44 L441.38,444.55 L442.31,443.66 L443.24,442.76 L444.18,441.85 L445.11,440.94 L446.04,440.02 L446.97,439.10 L447.91,438.17 L448.84,437.23 L449.77,436.29 L450.70,435.34 L451.64,434.38 L452.57,433.42 L453.50,432.45 L454.44,431.48 L455.37,430.50 L456.30,429.51 L457.23,428.51 L458.17,427.51 L459.10,426.50 L460.03,425.49 L460.96,424.47 L461.90,423.44 L462.83,422.41 L463.76,421.37 L464.70,420.32 L465.63,419.26 L466.56,418.20 L467.49,417.13 L468.43,416.06 L469.36,414.97 L470.29,413.88 L471.22,412.79 L472.16,411.68 L473.09,410.57 L474.02,409.45 L474.96,408.32 L475.89,407.19 L476.82,406.05 L477.75,404.90 L478.69,403.74 L479.62,402.58 L480.55,401.41 L481.48,400.23 L482.42,399.05 L483.35,397.85 L484.28,396.65 L485.21,395.44 L486.15,394.22 L487.08,393.00 L488.01,391.76 L488.95,390.52 L489.88,389.27 L490.81,388.02 L491.74,386.75 L492.68,385.48 L493.61,384.20 L494.54,382.91 L495.47,381.61 L496.41,380.30 L497.34,378.99 L498.27,377.66 L499.21,376.33 L500.14,374.99 L501.07,373.64 L502.00,372.28 L502.94,370.92 L503.87,369.54 L504.80,368.16 L505.73,366.76 L506.67,365.36 L507.60,363.95 L508.53,362.53 L509.47,361.10 L510.40,359.66 L511.33,358.21 L512.26,356.76 L513.20,355.29 L514.13,353.82 L515.06,352.33 L515.99,350.84 L516.93,349.33 L517.86,347.82 L518.79,346.30 L519.73,344.76 L520.66,343.22 L521.59,341.67 L522.52,340.11 L523.46,338.53 L524.39,336.95 L525.32,335.36 L526.25,333.76 L527.19,332.14 L528.12,330.52 L529.05,328.89 L529.99,327.24 L530.92,325.59 L531.85,323.93 L532.78,322.25 L533.72,320.56 L534.65,318.87 L535.58,317.16 L536.51,315.44 L537.45,313.71 L538.38,311.97 L539.31,310.22 L540.24,308.46 L541.18,306.69 L542.11,304.90 L543.04,303.11 L543.98,301.30 L544.91,299.48 L545.84,297.65 L546.77,295.81 L547.71,293.96 L548.64,292.09 L549.57,290.21 L550.50,288.33 L551.44,286.42 L552.37,284.51 L553.30,282.59 L554.24,280.65 L555.17,278.70 L556.10,276.74 L557.03,274.76 L557.97,272.78 L558.90,270.78 L559.83,268.77 L560.76,266.74 L561.70,264.70 L562.63,262.65 L563.56,260.59 L564.50,258.51 L565.43,256.42 L566.36,254.32 L567.29,252.21 L568.23,250.08 L569.16,247.93 L570.09,245.78 L571.02,243.61 L571.96,241.42 L572.89,239.23 L573.82,237.01 L574.76,234.79 L575.69,232.55 L576.62,230.29 L577.55,228.03 L578.49,225.74 L579.42,223.45 L580.35,221.13 L581.28,218.81 L582.22,216.47 L583.15,214.11 L584.08,211.74 L585.01,209.35 L585.95,206.95 L586.88,204.54 L587.81,202.11 L588.75,199.66 L589.68,197.20 L590.61,194.72 L591.54,192.22 L592.48,189.71 L593.41,187.19 L594.34,184.65 L595.27,182.09 L596.21,179.51 L597.14,176.92 L598.07,174.32 L599.01,171.69 L599.94,169.05 L600.87,166.39 L601.80,163.72 L602.74,161.03 L603.67,158.32 L604.60,155.60 L605.53,152.85 L606.47,150.09 L607.40,147.31 L608.33,144.52 L609.27,141.70 L610.20,138.87 L611.13,136.02 L612.06,133.15 L613.00,130.27 L613.93,127.36 L614.86,124.44 L615.79,121.50 L616.73,118.53 L617.66,115.55 L618.59,112.55 L619.53,109.54 L620.46,106.50 L621.39,103.44 L622.32,100.36 L623.26,97.27 L624.19,94.15 L625.12,91.01 L626.05,87.85 L626.99,84.68 L627.92,81.48 L628.85,78.26 L629.79,75.02 L630.72,71.76 L631.65,68.48 L632.58,65.18 L633.52,61.85 L634.45,58.51 L635.38,55.14 L636.31,51.75 L637.25,48.34 L638.18,44.91 L639.11,41.45 L640.04,37.97 L640.98,34.47 L641.91,30.95 L642.84,27.40 L643.78,23.83 L644.71,20.24 L645.64,16.62 L646.57,12.98 L647.51,9.32 L648.44,5.63 L649.37,1.92 L650.30,-1.81 L651.24,-5.57 L652.17,-9.36 L653.10,-13.17" stroke="#00bfff" stroke-width="2.15"/>
<path d="M427.2,451.1H443.2M435.2,443.1V459.1" stroke="#00bfff" stroke-width="2.15"/>
<rect x="431.2" y="448.1" width="8.2" height="5.4" rx="1.3" fill="#00bfff" stroke="none"/>
</g>
<rect x="86.9" y="2.4" width="741.6" height="546.3000000000001" fill="none" stroke="#000" stroke-width="1.5"/>
<path d="M135.0,49.90H173.0M135.0,45.70v8.4M173.0,45.70v8.4" stroke="#00bfff" stroke-width="1.75" fill="none"/>
<path d="M154.0,41.70v16.4" stroke="#00bfff" stroke-width="2.15"/>
<path d="M135.0,90.25H173.0M135.0,86.05v8.4M173.0,86.05v8.4" stroke="#1e90ff" stroke-width="1.75" fill="none"/>
<rect x="146.0" y="82.25" width="16" height="16" fill="#1e90ff"/>
<path d="M135.0,130.60H173.0M135.0,126.40v8.4M173.0,126.40v8.4" stroke="#ff4500" stroke-width="1.75" fill="none"/>
<circle cx="154.0" cy="130.60" r="8.1" fill="#ff4500"/>
<path d="M135.0,170.95H173.0M135.0,166.75v8.4M173.0,166.75v8.4" stroke="#32cd32" stroke-width="1.75" fill="none"/>
<path d="M154.0,162.45000000000002L162.0,175.35000000000002L146.0,175.35000000000002Z" fill="#32cd32"/>
<path d="M135.0,211.30H173.0M135.0,207.10v8.4M173.0,207.10v8.4" stroke="#20b2aa" stroke-width="1.75" fill="none"/>
<path d="M154.0,220.20000000000002L162.0,207.3L146.0,207.3Z" fill="#20b2aa"/>
<path d="M135.0,251.65H173.0M135.0,247.45v8.4M173.0,247.45v8.4" stroke="#000080" stroke-width="1.75" fill="none"/>
<path d="M154.0,243.65L162.0,251.65L154.0,259.65L146.0,251.65Z" fill="#000080"/>
<path d="M135.0,292.00H173.0M135.0,287.80v8.4M173.0,287.80v8.4" stroke="#dc143c" stroke-width="1.75" fill="none"/>
<path d="M154.00,284.40 L161.70,290.00 L158.76,299.05 L149.24,299.05 L146.30,290.00Z" fill="#dc143c"/>
<g font-family="Liberation Serif, serif" fill="#000" stroke="#fff" stroke-width="0.45" style="will-change:transform">
<text id="L0a" x="190.64" y="57.75" font-size="33.10" textLength="161.14" lengthAdjust="spacingAndGlyphs">Overlapping</text>
<text id="L0b" x="362.06" y="57.75" font-size="33.10" textLength="97.66" lengthAdjust="spacingAndGlyphs">spheres</text>
<text id="L1a" x="191.33" y="98.08" font-size="33.10" textLength="157.64" lengthAdjust="spacingAndGlyphs">Equilibrium</text>
<text id="L1b" x="359.82" y="98.08" font-size="33.10" textLength="40.26" lengthAdjust="spacingAndGlyphs">HS</text>
<text id="L2a" x="190.60" y="138.41" font-size="33.10" textLength="40.51" lengthAdjust="spacingAndGlyphs">SC</text>
<text id="L2b" x="240.16" y="138.41" font-size="33.10" textLength="40.74" lengthAdjust="spacingAndGlyphs">HS</text>
<text id="L3a" x="190.70" y="178.74" font-size="33.10" textLength="132.74" lengthAdjust="spacingAndGlyphs">Quantizer</text>
<text id="L3b" x="331.06" y="178.74" font-size="33.10" textLength="97.38" lengthAdjust="spacingAndGlyphs">spheres</text>
<text id="L4a" x="191.78" y="219.07" font-size="33.10" textLength="65.97" lengthAdjust="spacingAndGlyphs">MRJ</text>
<text id="L4b" x="267.61" y="219.07" font-size="33.10" textLength="39.77" lengthAdjust="spacingAndGlyphs">HS</text>
<text id="L5a" x="192.13" y="259.40" font-size="33.10" textLength="65.72" lengthAdjust="spacingAndGlyphs">BCC</text>
<text id="L5b" x="267.61" y="259.40" font-size="33.10" textLength="39.54" lengthAdjust="spacingAndGlyphs">HS</text>
<text id="L6a" x="191.73" y="299.73" font-size="33.10" textLength="63.56" lengthAdjust="spacingAndGlyphs">FCC</text>
<text id="L6b" x="264.95" y="299.73" font-size="33.10" textLength="39.89" lengthAdjust="spacingAndGlyphs">HS</text>
<text id="X0" x="78.64" y="575.70" font-size="33.60" textLength="16.98" lengthAdjust="spacingAndGlyphs">0</text>
<text id="X1" x="162.54" y="575.70" font-size="33.60" textLength="41.49" lengthAdjust="spacingAndGlyphs">0.1</text>
<text id="X2" x="258.30" y="575.70" font-size="33.60" textLength="41.34" lengthAdjust="spacingAndGlyphs">0.2</text>
<text id="X3" x="354.05" y="575.70" font-size="33.60" textLength="40.74" lengthAdjust="spacingAndGlyphs">0.3</text>
<text id="X4" x="449.86" y="575.70" font-size="33.60" textLength="39.68" lengthAdjust="spacingAndGlyphs">0.4</text>
<text id="X5" x="545.48" y="575.70" font-size="33.60" textLength="40.72" lengthAdjust="spacingAndGlyphs">0.5</text>
<text id="X6" x="640.94" y="575.70" font-size="33.60" textLength="40.61" lengthAdjust="spacingAndGlyphs">0.6</text>
<text id="X7" x="736.85" y="575.70" font-size="33.60" textLength="40.09" lengthAdjust="spacingAndGlyphs">0.7</text>
<text id="Y0" x="66.77" y="557.25" font-size="33.60" textLength="17.47" lengthAdjust="spacingAndGlyphs">0</text>
<text id="Y1" x="43.62" y="401.16" font-size="33.60" textLength="40.85" lengthAdjust="spacingAndGlyphs">0.1</text>
<text id="Y2" x="43.54" y="245.08" font-size="33.60" textLength="40.91" lengthAdjust="spacingAndGlyphs">0.2</text>
<text id="Y3" x="43.41" y="88.99" font-size="33.60" textLength="40.64" lengthAdjust="spacingAndGlyphs">0.3</text>
<text id="PHI" x="440.05" y="609.21" font-size="37.14" font-style="italic" textLength="21.67" lengthAdjust="spacingAndGlyphs">ϕ</text>
<text id="PHI1" x="460.20" y="615.41" font-size="27.55" textLength="13.31" lengthAdjust="spacingAndGlyphs">1</text>
<text id="A2a" x="163.71" y="408.19" font-size="25.98" textLength="13.56" lengthAdjust="spacingAndGlyphs">2</text>
<text id="APX" x="188.09" y="426.01" font-size="45.68" textLength="29.58" lengthAdjust="spacingAndGlyphs">≈</text>
<text id="DEL" x="228.04" y="422.59" font-size="40.22" font-style="italic" textLength="15.61" lengthAdjust="spacingAndGlyphs">δ</text>
<text id="A2b" x="244.96" y="408.59" font-size="27.07" textLength="14.50" lengthAdjust="spacingAndGlyphs">2</text>
<text id="AC" x="244.23" y="431.58" font-size="25.21" font-style="italic" textLength="12.13" lengthAdjust="spacingAndGlyphs">c</text>
<g transform="rotate(-90)">
<text id="YLK" x="-315.16" y="32.29" font-size="38.92" font-style="italic" textLength="17.81" lengthAdjust="spacingAndGlyphs">k</text>
<text id="YLS" x="-293.92" y="39.53" font-size="54.75" textLength="13.83" lengthAdjust="spacingAndGlyphs">/</text>
<text id="YLR" x="-276.13" y="32.74" font-size="39.04" font-style="italic" textLength="26.69" lengthAdjust="spacingAndGlyphs">R</text>
<text id="YL2" x="-250.67" y="18.44" font-size="26.62" textLength="14.74" lengthAdjust="spacingAndGlyphs">2</text>
</g>
</g>
<path id="calL" d="M160.80,401.24 L161.05,401.01 L161.31,400.74 L161.55,400.45 L161.77,400.15 L161.94,399.82 L162.04,399.46 L162.10,399.11 L162.14,398.75 L162.15,398.40 L162.13,398.04 L162.07,397.70 L161.99,397.36 L161.87,397.04 L161.73,396.73 L161.58,396.42 L161.41,396.13 L161.21,395.85 L160.98,395.59 L160.73,395.35 L160.45,395.14 L160.16,394.94 L159.85,394.77 L159.52,394.61 L159.18,394.48 L158.82,394.37 L158.44,394.28 L158.06,394.22 L157.65,394.17 L157.23,394.15 L156.68,394.15 L156.14,394.18 L155.60,394.24 L155.08,394.34 L154.57,394.46 L154.07,394.62 L153.58,394.81 L153.10,395.03 L152.64,395.28 L152.19,395.56 L151.76,395.86 L151.34,396.19 L150.94,396.55 L150.55,396.93 L150.17,397.33 L149.81,397.75 L149.46,398.20 L149.13,398.66 L148.80,399.15 L148.49,399.66 L148.19,400.18 L147.90,400.72 L147.62,401.29 L147.36,401.87 L147.11,402.47 L146.86,403.09 L146.63,403.73 L146.41,404.38 L146.20,405.05 L146.05,405.53 L145.91,406.00 L145.78,406.46 L145.65,406.91 L145.51,407.37 L145.39,407.81 L145.26,408.25 L145.13,408.69 L145.01,409.12 L144.89,409.55 L144.77,409.97 L144.65,410.38 L144.53,410.79 L144.41,411.20 L144.29,411.59 L144.17,411.98 L144.06,412.37 L143.94,412.75 L143.82,413.12 L143.70,413.48 L143.58,413.84 L143.46,414.19 L143.34,414.53 L143.21,414.87 L143.09,415.20 L142.96,415.52 L142.84,415.83 L142.71,416.13 L142.57,416.44 L142.51,416.66 L142.45,416.88 L142.39,417.10 L142.32,417.31 L142.25,417.52 L142.18,417.73 L142.10,417.93 L142.02,418.13 L141.94,418.33 L141.85,418.53 L141.77,418.72 L141.68,418.91 L141.59,419.10 L141.49,419.29 L141.39,419.47 L141.29,419.65 L141.19,419.83 L141.09,420.00 L140.97,420.17 L140.86,420.33 L140.75,420.50 L140.63,420.66 L140.51,420.81 L140.39,420.97 L140.26,421.12 L140.14,421.27 L140.01,421.41 L139.88,421.56 L139.75,421.70 L140.05,422.10 L140.23,422.01 L140.41,421.92 L140.59,421.82 L140.76,421.71 L140.94,421.60 L141.12,421.49 L141.30,421.37 L141.48,421.25 L141.66,421.12 L141.83,420.99 L142.01,420.85 L142.19,420.71 L142.37,420.57 L142.54,420.42 L142.72,420.27 L142.90,420.11 L143.07,419.95 L143.24,419.78 L143.42,419.60 L143.59,419.42 L143.75,419.24 L143.92,419.05 L144.09,418.85 L144.25,418.65 L144.41,418.44 L144.57,418.23 L144.72,418.01 L144.88,417.79 L145.03,417.56 L145.18,417.24 L145.33,416.90 L145.48,416.56 L145.63,416.21 L145.77,415.86 L145.91,415.50 L146.05,415.13 L146.19,414.76 L146.33,414.38 L146.46,414.00 L146.59,413.62 L146.72,413.23 L146.85,412.83 L146.98,412.43 L147.11,412.03 L147.24,411.62 L147.37,411.20 L147.50,410.79 L147.63,410.36 L147.77,409.94 L147.90,409.51 L148.03,409.07 L148.16,408.64 L148.30,408.20 L148.44,407.75 L148.58,407.30 L148.72,406.85 L148.86,406.40 L149.00,405.95 L149.21,405.33 L149.42,404.74 L149.64,404.16 L149.87,403.61 L150.10,403.07 L150.33,402.56 L150.56,402.06 L150.80,401.59 L151.05,401.14 L151.30,400.71 L151.55,400.31 L151.82,399.93 L152.08,399.57 L152.35,399.23 L152.63,398.92 L152.91,398.63 L153.20,398.37 L153.49,398.12 L153.78,397.90 L154.08,397.70 L154.39,397.52 L154.70,397.37 L155.02,397.23 L155.35,397.11 L155.69,397.02 L156.04,396.94 L156.40,396.89 L156.78,396.86 L157.17,396.85 L157.43,396.86 L157.68,396.89 L157.91,396.93 L158.12,396.98 L158.31,397.04 L158.47,397.10 L158.62,397.17 L158.75,397.24 L158.86,397.32 L158.95,397.39 L159.03,397.47 L159.10,397.54 L159.15,397.62 L159.20,397.69 L159.23,397.77 L159.23,397.85 L159.22,397.94 L159.20,398.02 L159.18,398.10 L159.14,398.18 L159.10,398.27 L159.05,398.36 L158.99,398.45 L158.92,398.55 L158.88,398.67 L158.84,398.82 L158.79,398.98 L158.72,399.15 L158.60,399.36ZM142.36,419.15 L142.73,419.00 L143.08,418.89 L143.42,418.82 L143.76,418.79 L144.09,418.78 L144.42,418.80 L144.74,418.84 L145.06,418.90 L145.38,418.98 L145.71,419.05 L146.05,419.14 L146.39,419.25 L146.73,419.37 L147.08,419.51 L147.44,419.66 L147.80,419.82 L148.17,419.99 L148.55,420.17 L148.93,420.35 L149.32,420.54 L149.71,420.73 L150.11,420.93 L150.51,421.13 L150.92,421.32 L151.34,421.51 L151.77,421.70 L152.22,421.84 L152.67,421.97 L153.15,422.09 L153.65,422.19 L154.15,422.27 L154.64,422.32 L155.12,422.36 L155.60,422.37 L156.07,422.36 L156.54,422.32 L156.99,422.27 L157.44,422.19 L157.88,422.10 L158.31,421.98 L158.73,421.81 L159.11,421.60 L159.48,421.36 L159.84,421.11 L160.18,420.85 L160.50,420.57 L160.81,420.27 L161.10,419.96 L161.37,419.64 L161.63,419.31 L161.87,418.96 L162.10,418.60 L162.31,418.23 L162.50,417.85 L162.67,417.45 L162.84,417.05 L162.98,416.64 L163.12,416.22 L162.68,415.98 L162.41,416.32 L162.14,416.63 L161.87,416.92 L161.58,417.19 L161.30,417.45 L161.01,417.68 L160.73,417.91 L160.44,418.11 L160.15,418.30 L159.86,418.46 L159.57,418.61 L159.27,418.74 L158.98,418.85 L158.68,418.94 L158.39,419.02 L158.09,419.08 L157.79,419.12 L157.50,419.18 L157.21,419.25 L156.92,419.30 L156.61,419.34 L156.30,419.37 L155.98,419.38 L155.65,419.38 L155.31,419.36 L154.96,419.32 L154.60,419.27 L154.23,419.20 L153.85,419.11 L153.50,419.01 L153.13,418.89 L152.75,418.77 L152.35,418.67 L151.94,418.56 L151.53,418.45 L151.12,418.33 L150.70,418.20 L150.28,418.08 L149.85,417.95 L149.42,417.83 L149.00,417.71 L148.56,417.60 L148.13,417.49 L147.70,417.40 L147.26,417.32 L146.83,417.25 L146.39,417.20 L145.96,417.17 L145.52,417.16 L145.09,417.20 L144.67,417.28 L144.25,417.38 L143.84,417.51 L143.45,417.68 L143.07,417.87 L142.71,418.10 L142.36,418.36 L142.04,418.65ZM161.50,400.1a1.7,1.7 0 1,0 -3.4,0a1.7,1.7 0 1,0 3.4,0Z" fill="#000"/>
</svg>
</body></html>
